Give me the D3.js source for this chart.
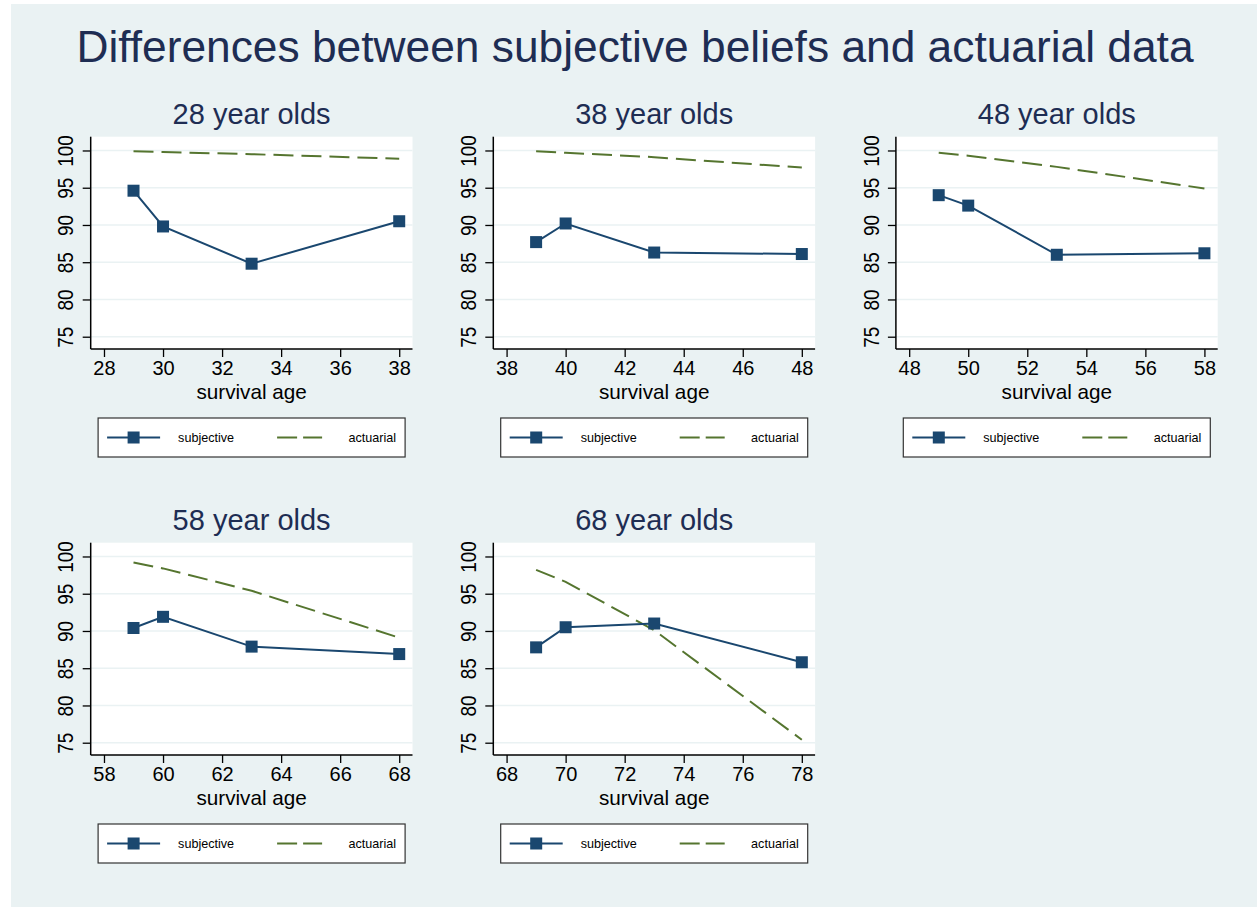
<!DOCTYPE html>
<meta charset="utf-8" />
<head>
  <script src="https://d3js.org/d3.v7.min.js"></script>
  <style>
    body { margin: 0; background: #ffffff; }
    text { font-family: "Liberation Sans", Arial, sans-serif; }
  </style>
</head>
<body>
  <div id="my_chart"></div>
</body>
<script>
  // data
  var groups = ["28 year olds", "38 year olds", "48 year olds", "58 year olds", "68 year olds"];
  var startAges = [28, 38, 48, 58, 68];
  var survivalAges = [
    [29, 30, 33, 38],
    [39, 40, 43, 48],
    [49, 50, 53, 58],
    [59, 60, 63, 68],
    [69, 70, 73, 78]
  ];
  var subjective = [
    [94.6, 89.8, 84.8, 90.5],
    [87.7, 90.2, 86.3, 86.1],
    [94.0, 92.6, 86.0, 86.2],
    [90.4, 91.9, 87.9, 86.9],
    [87.8, 90.5, 91.0, 85.8]
  ];
  var actuarial = [
    [99.9, 99.8, 99.5, 98.9],
    [99.9, 99.7, 99.1, 97.7],
    [99.7, 99.3, 97.8, 94.9],
    [99.2, 98.4, 95.4, 89.1],
    [98.2, 96.6, 90.1, 75.4]
  ];
  var yTicks = [75, 80, 85, 90, 95, 100];
  var legendLabels = ["subjective", "actuarial"];

  var W = 1257, H = 907;
  var navy = "#1a476f", green = "#55752f", bg = "#eaf2f3";

  var svg = d3.select("#my_chart")
    .append("svg")
    .attr("width", W)
    .attr("height", H);

  // outer background
  svg.append("rect")
    .attr("x", 11).attr("y", 4)
    .attr("width", W - 11).attr("height", H - 4)
    .attr("fill", bg);

  svg.append("text")
    .attr("x", 635).attr("y", 62)
    .attr("text-anchor", "middle")
    .style("font-size", "44.3px")
    .attr("fill", "#1e2d53")
    .text("Differences between subjective beliefs and actuarial data");

  // plot box of the first panel, others are shifted
  var plotW = 321.8, plotH = 212.3;
  var colStep = 402.6, rowStep = 406;

  groups.forEach(function (name, i) {
    var col = i % 3, row = Math.floor(i / 3);
    var left = 90.7 + col * colStep;
    var top = 136.7 + row * rowStep;

    var g = svg.append("g")
      .attr("transform", "translate(" + left + "," + top + ")");

    var a0 = startAges[i];
    var x = d3.scaleLinear()
      .domain([a0 - 0.45, a0 + 10.45])
      .range([0, plotW]);
    var y = d3.scaleLinear()
      .domain([73.35, 101.85])
      .range([plotH, 0]);

    g.append("rect")
      .attr("width", plotW).attr("height", plotH)
      .attr("fill", "#ffffff");

    // gridlines
    g.selectAll(".grid")
      .data(yTicks)
      .enter()
      .append("line")
      .attr("x1", 0).attr("x2", plotW)
      .attr("y1", function (d) { return y(d); })
      .attr("y2", function (d) { return y(d); })
      .attr("stroke", bg)
      .attr("stroke-width", 1.6);

    // panel title
    g.append("text")
      .attr("x", plotW / 2).attr("y", -12.5)
      .attr("text-anchor", "middle")
      .style("font-size", "29px")
      .attr("fill", "#1e2d53")
      .text(name);

    // axes
    var xAxis = g.append("g")
      .attr("transform", "translate(0," + plotH + ")")
      .call(d3.axisBottom(x)
        .tickValues(d3.range(a0, a0 + 11, 2))
        .tickSize(8)
        .tickPadding(4));
    xAxis.select(".domain").attr("stroke", "#000").attr("stroke-width", 1.5)
      .attr("d", "M0,0H" + plotW);
    xAxis.selectAll(".tick line").attr("stroke", "#000").attr("stroke-width", 1.3);
    xAxis.selectAll(".tick text")
      .style("font-size", "20px")
      .attr("fill", "#000")
      .style("font-family", "Liberation Sans, Arial, sans-serif");

    var yAxis = g.append("g")
      .call(d3.axisLeft(y).tickValues(yTicks).tickSize(8).tickPadding(0));
    yAxis.select(".domain").attr("stroke", "#000").attr("stroke-width", 1.5)
      .attr("d", "M0," + plotH + "V0");
    yAxis.selectAll(".tick line").attr("stroke", "#000").attr("stroke-width", 1.3);
    yAxis.selectAll(".tick text")
      .style("font-size", "19px")
      .attr("fill", "#000")
      .style("font-family", "Liberation Sans, Arial, sans-serif")
      .attr("x", null).attr("dy", null)
      .attr("text-anchor", "middle")
      .attr("transform", "translate(-17.3,0) rotate(-90) scale(1,1.2)");

    g.append("text")
      .attr("x", plotW / 2).attr("y", plotH + 50)
      .attr("text-anchor", "middle")
      .style("font-size", "20.7px")
      .attr("fill", "#000")
      .text("survival age");

    // actuarial dashed line
    var pts = survivalAges[i];
    g.append("path")
      .datum(actuarial[i])
      .attr("fill", "none")
      .attr("stroke", green)
      .attr("stroke-width", 2)
      .attr("stroke-dasharray", "20,8")
      .attr("d", d3.line()
        .x(function (d, j) { return x(pts[j]); })
        .y(function (d) { return y(d); }));

    // subjective line with squares
    g.append("path")
      .datum(subjective[i])
      .attr("fill", "none")
      .attr("stroke", navy)
      .attr("stroke-width", 2)
      .attr("d", d3.line()
        .x(function (d, j) { return x(pts[j]); })
        .y(function (d) { return y(d); }));

    g.selectAll(".mk")
      .data(subjective[i])
      .enter()
      .append("rect")
      .attr("x", function (d, j) { return x(pts[j]) - 6; })
      .attr("y", function (d) { return y(d) - 6; })
      .attr("width", 12).attr("height", 12)
      .attr("fill", navy);

    // legend
    var lg = g.append("g")
      .attr("transform", "translate(" + (plotW / 2 - 153.5) + "," + (plotH + 69) + ")");
    lg.append("rect")
      .attr("width", 307).attr("height", 39)
      .attr("fill", "#fff")
      .attr("stroke", "#333")
      .attr("stroke-width", 1.2);
    lg.append("line")
      .attr("x1", 9).attr("x2", 62).attr("y1", 19.5).attr("y2", 19.5)
      .attr("stroke", navy).attr("stroke-width", 2);
    lg.append("rect")
      .attr("x", 29.5).attr("y", 13.5).attr("width", 12).attr("height", 12)
      .attr("fill", navy);
    lg.append("text")
      .attr("x", 80).attr("y", 24)
      .style("font-size", "12.6px")
      .text(legendLabels[0]);
    lg.append("line")
      .attr("x1", 179).attr("x2", 224).attr("y1", 19.5).attr("y2", 19.5)
      .attr("stroke", green).attr("stroke-width", 2)
      .attr("stroke-dasharray", "20,6");
    lg.append("text")
      .attr("x", 298).attr("y", 24)
      .attr("text-anchor", "end")
      .style("font-size", "12.6px")
      .text(legendLabels[1]);
  });
</script>
